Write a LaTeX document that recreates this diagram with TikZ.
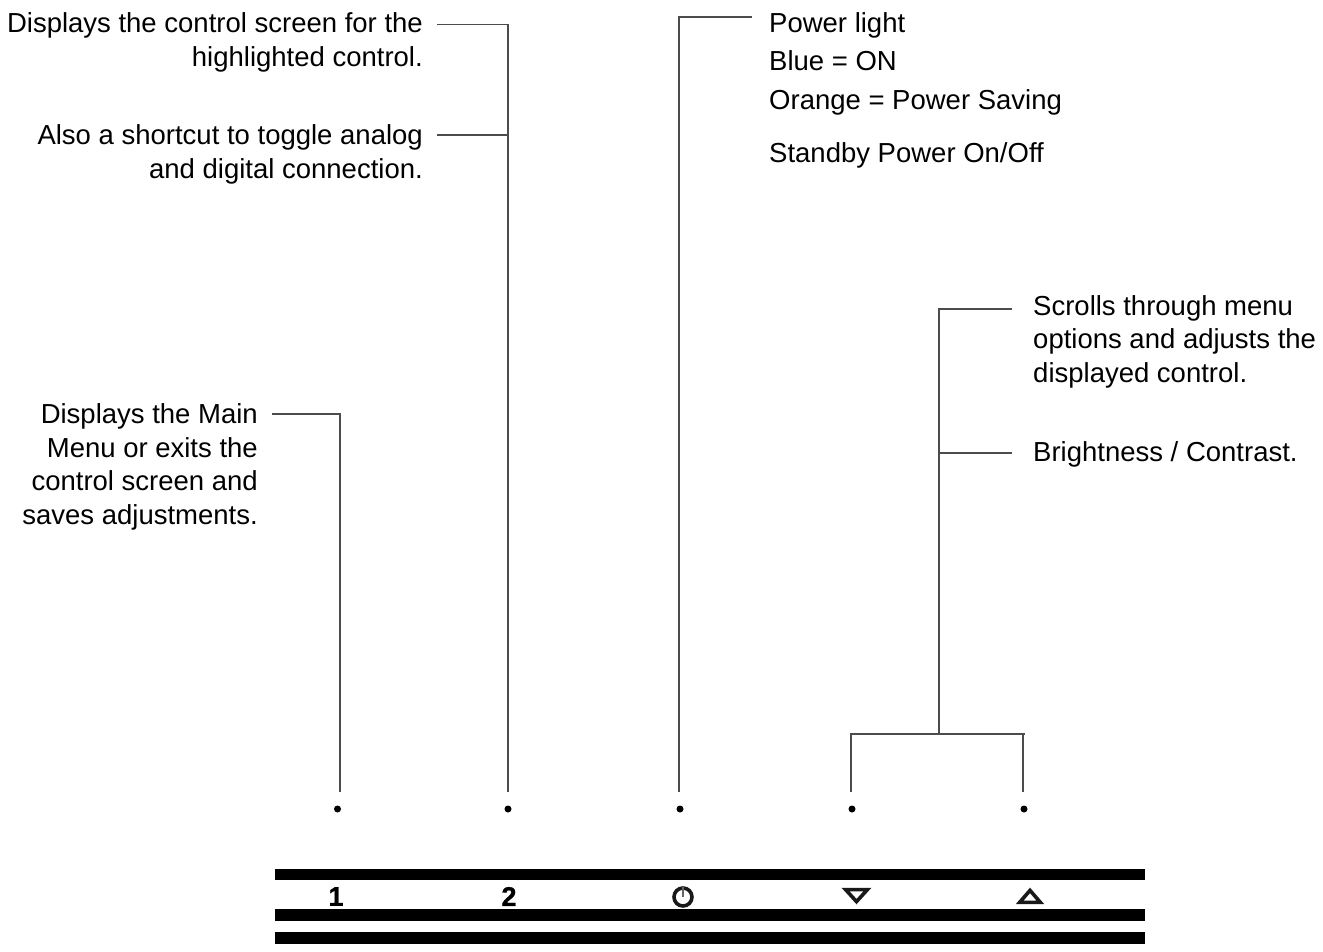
\documentclass[tikz,border=0pt]{standalone}
\usepackage{fontspec}
\setmainfont{Liberation Sans}
\newfontfamily\keyfont[FakeBold=1]{Liberation Sans Bold}
\usetikzlibrary{calc,positioning}

\tikzset{
	lbl/.style={inner sep=0pt,font=\fontsize{27.5}{33.5}\selectfont},
	lblr/.style={lbl,anchor=north east,align=right},
	lbll/.style={lbl,anchor=north west,align=left},
	lead/.style={draw=black!70,line width=1.1pt},
	spot/.style={circle,fill=black,inner sep=0pt,minimum size=7pt},
	band/.style={fill=black,draw=none},
	key/.style={inner sep=0pt,font=\fontsize{27}{27}\keyfont},
	icon/.style={line width=3.6pt,line join=miter,black!90}
}

\begin{document}
\begin{tikzpicture}[x=1pt,y=-1pt]
	\useasboundingbox (0,0) rectangle (1323,951);

	% button spots
	\node[spot] (s1) at (337.5,809) {};
	\node[spot] (s2) at (508,809) {};
	\node[spot] (s3) at (680,809) {};
	\node[spot] (s4) at (852,809) {};
	\node[spot] (s5) at (1024,809) {};

	% labels
	\node[lblr] (t1) at (423,12.5) {Displays the control screen for the\\highlighted control.};
	\node[lblr] (t2) at (423,124.5) {Also a shortcut to toggle analog\\and digital connection.};
	\node[lblr] (t3) at (258,403.5) {Displays the Main\\Menu or exits the\\control screen and\\saves adjustments.};
	\node[lbll,font=\fontsize{27.5}{38.5}\selectfont] (t4) at (769,12) {Power light\\Blue = ON\\Orange = Power Saving};
	\node[lbll] (t5) at (769,142) {Standby Power On/Off};
	\node[lbll] (t6) at (1033,295) {Scrolls through menu\\options and adjusts the\\displayed control.};
	\node[lbll] (t7) at (1033,441) {Brightness / Contrast.};

	% leaders
	\coordinate (c1) at (340,792);
	\coordinate (c2) at (508,792);
	\coordinate (c3) at (679,792);
	\coordinate (c4) at (851,792);
	\coordinate (c5) at (1023,792);
	\coordinate (j1) at (939,734);
	\coordinate (e1) at (1011.5,309);
	\coordinate (e2) at (1011.5,453);
	\coordinate (e4) at (752,17);
	\coordinate (e5) at (437,24.5);
	\coordinate (e6) at (437,135);
	\coordinate (e7) at (272,414);

	\draw[lead] (c1) -- (340,414) -- (e7);
	\draw[lead] (c2) -- (508,24.5) -- (e5);
	\draw[lead] (508,135) -- (e6);
	\draw[lead] (c3) -- (679,17) -- (e4);
	\draw[lead] (c4) -- (851,734) -- (1025,734);
	\draw[lead] (c5) -- (1023,734);
	\draw[lead] (j1) -- (939,309) -- (e1);
	\draw[lead] (939,453) -- (e2);

	% button strip
	\fill[band] (275,868.5) rectangle (1145,880);
	\fill[band] (275,909) rectangle (1145,920.5);
	\fill[band] (275,932) rectangle (1145,944);
	\node[key] (k1) at (336,896.5) {1};
	\node[key] (k2) at (509,896.5) {2};
	\draw[icon] (683,897) circle (9pt);
	\draw[line width=2.6pt,black!60] (683,887) -- (683,897);
	\draw[icon] (845.6,889.6) -- (867.4,889.6) -- (856.5,901.6) -- cycle;
	\draw[icon] (1019.6,902.4) -- (1040.4,902.4) -- (1030,890.4) -- cycle;
\end{tikzpicture}
\end{document}
